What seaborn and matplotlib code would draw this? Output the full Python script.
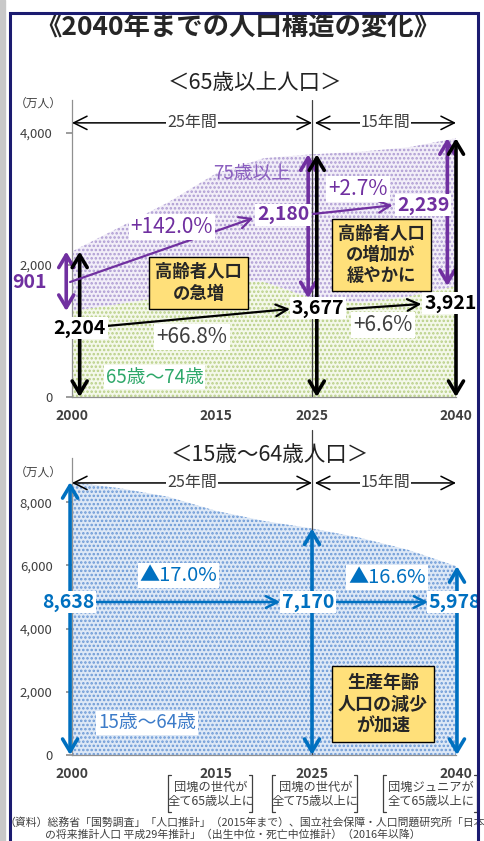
import matplotlib
matplotlib.use('Agg')
import matplotlib.pyplot as plt
import pandas as pd
import seaborn as sns
from matplotlib.patches import Rectangle
from matplotlib.lines import Line2D

sns.set_theme(style='white')
plt.rcParams['font.family'] = ['Noto Sans CJK JP', 'DejaVu Sans']
plt.rcParams['hatch.linewidth'] = 1.2

# データ（万人）
years = [2000, 2005, 2010, 2015, 2020, 2025, 2030, 2035, 2040]
age65_74 = [1303, 1412, 1529, 1755, 1747, 1497, 1428, 1522, 1682]
age75_plus = [901, 1164, 1419, 1632, 1872, 2180, 2288, 2260, 2239]
age15_64 = [8638, 8442, 8173, 7728, 7406, 7170, 6875, 6494, 5978]
tick_years = [2000, 2015, 2025, 2040]

df = pd.DataFrame({'year': years, 'a65_74': age65_74, 'a75': age75_plus, 'a15_64': age15_64})
df['old_total'] = df['a65_74'] + df['a75']
df = df.set_index('year')

PURPLE = '#7030A0'
BLUE = '#0070C0'
GREEN = '#2FA86A'
GREY = '#404040'
BOXC = '#FFE07A'

W, H = 484, 841
fig = plt.figure(figsize=(W / 100, H / 100), dpi=100)


def pbox(l, t, r, b):
    return [l / W, 1 - b / H, (r - l) / W, (b - t) / H]


def fxy(x, y):
    return (x / W, 1 - y / H)


ax1 = fig.add_axes(pbox(72, 100, 456, 397))
ax2 = fig.add_axes(pbox(72, 458, 456, 755))

# 面グラフ
ax1.fill_between(df.index, 0, df['a65_74'], facecolor='#f4f8ea', edgecolor='#b8cf86', hatch='....', lw=0)
ax1.fill_between(df.index, df['a65_74'], df['old_total'], facecolor='#f2eef8', edgecolor='#ad9bd2', hatch='....', lw=0)
ax2.fill_between(df.index, 0, df['a15_64'], facecolor='#dde8f6', edgecolor='#6b99d6', hatch='....', lw=0)

for ax, ymax, yt in [(ax1, 4500, [0, 2000, 4000]), (ax2, 9400, [0, 2000, 4000, 6000, 8000])]:
    ax.set_xlim(2000, 2040)
    ax.set_ylim(0, ymax)
    ax.set_yticks(yt)
    ax.set_yticklabels([f'{v:,}' for v in yt])
    ax.set_xticks(tick_years)
    ax.set_xticklabels([str(y) for y in tick_years])
    for lab in ax.get_xticklabels():
        lab.set_fontweight('bold')
    ax.tick_params(axis='y', left=True, length=4, color='#909090', labelsize=9.5, labelcolor=GREY, pad=10)
    ax.tick_params(axis='x', bottom=False, length=0, labelsize=10, labelcolor=GREY, pad=9)
    sns.despine(ax=ax)
    for s in ['left', 'bottom']:
        ax.spines[s].set_color('#909090')
        ax.spines[s].set_linewidth(0.9)
    ax.set_facecolor('none')
    ax.set_xlabel('')
    ax.set_ylabel('')

ax1.axvline(2025, color=GREY, lw=0.9)
ax2.axvline(2025, ymin=0, ymax=1.095, color=GREY, lw=0.9, clip_on=False)


def darrow(ax, x, y0, y1, color, lw=2.6):
    ax.annotate('', xy=(x, y1), xytext=(x, y0),
                arrowprops=dict(arrowstyle='<->,head_length=0.75,head_width=0.45', color=color, lw=lw,
                                shrinkA=0, shrinkB=0), annotation_clip=False)


def sarrow(ax, p0, p1, color, lw=1.6):
    ax.annotate('', xy=p1, xytext=p0,
                arrowprops=dict(arrowstyle='->,head_length=0.7,head_width=0.35', color=color, lw=lw,
                                shrinkA=0, shrinkB=0), annotation_clip=False)


def span(ax, x0, x1, yfrac, label):
    tr = ax.get_xaxis_transform()
    ax.annotate('', xy=(x1, yfrac), xytext=(x0, yfrac), xycoords=tr, textcoords=tr,
                arrowprops=dict(arrowstyle='<->,head_length=0.8,head_width=0.4', color='black', lw=1.1,
                                shrinkA=0, shrinkB=0), annotation_clip=False)
    ax.text((x0 + x1) / 2, yfrac, label, transform=tr, ha='center', va='center', fontsize=11.5, color=GREY,
            bbox=dict(boxstyle='square,pad=0.05', fc='white', ec='none'))


WB = dict(boxstyle='square,pad=0.1', fc='white', ec='none')
YB = dict(boxstyle='square,pad=0.35', fc=BOXC, ec='black', lw=1)

# ---- 65歳以上 ----
span(ax1, 2000, 2025, 0.923, '25年間')
span(ax1, 2025.3, 2040, 0.923, '15年間')

o00, o25, o40 = df.loc[2000], df.loc[2025], df.loc[2040]
darrow(ax1, 1999.4, o00['old_total'], o00['a65_74'], PURPLE)
darrow(ax1, 2000.8, 0, o00['old_total'], 'black')
darrow(ax1, 2024.6, o25['old_total'], o25['a65_74'], PURPLE)
darrow(ax1, 2025.5, 0, o25['old_total'], 'black')
darrow(ax1, 2039.1, o40['old_total'], o40['a65_74'], PURPLE)
darrow(ax1, 2040.0, 0, o40['old_total'], 'black')

sarrow(ax1, (1999.8, 1742), (2018.9, 2712), PURPLE)
sarrow(ax1, (2025.1, 2773), (2033.4, 2905), PURPLE)
sarrow(ax1, (2003.6, 1076), (2022.7, 1333), 'black')
sarrow(ax1, (2028.7, 1333), (2036.4, 1409), 'black')

ax1.text(1995.6, 1742, f"{int(o00['a75']):,}", color=PURPLE, fontsize=14, fontweight='bold', ha='center', va='center')
ax1.text(2000.8, 1045, f"{int(o00['old_total']):,}", color='black', fontsize=14, fontweight='bold', ha='center', va='center', bbox=WB)
ax1.text(2022.0, 2758, f"{int(o25['a75']):,}", color=PURPLE, fontsize=14, fontweight='bold', ha='center', va='center', bbox=WB)
ax1.text(2025.6, 1348, f"{int(o25['old_total']):,}", color='black', fontsize=14, fontweight='bold', ha='center', va='center', bbox=WB)
ax1.text(2036.6, 2909, f"{int(o40['a75']):,}", color=PURPLE, fontsize=14, fontweight='bold', ha='center', va='center', bbox=WB)
ax1.text(2039.4, 1424, f"{int(o40['old_total']):,}", color='black', fontsize=14, fontweight='bold', ha='center', va='center', bbox=WB)

ax1.text(2010.4, 2576, '+142.0%', color=PURPLE, fontsize=15, ha='center', va='center', bbox=WB)
ax1.text(2029.8, 3152, '+2.7%', color=PURPLE, fontsize=15, ha='center', va='center', bbox=WB)
ax1.text(2012.5, 909, '+66.8%', color=GREY, fontsize=15, ha='center', va='center', bbox=WB)
ax1.text(2032.4, 1091, '+6.6%', color=GREY, fontsize=15, ha='center', va='center', bbox=WB)
ax1.text(2018.75, 3379, '75歳以上', color='#8B5FBF', fontsize=13.5, ha='center', va='center')
ax1.text(2008.6, 303, '65歳～74歳', color=GREEN, fontsize=13.5, ha='center', va='center', bbox=WB)

ax1.text(2013.2, 1727, '高齢者人口\nの急増', fontsize=12.5, fontweight='bold', ha='center', va='center',
         linespacing=1.25, bbox=YB)
ax1.text(2032.2, 2152, '高齢者人口\nの増加が\n緩やかに', fontsize=12.5, fontweight='bold', ha='center', va='center',
         linespacing=1.2, bbox=YB)

# ---- 15歳～64歳 ----
span(ax2, 2000, 2025, 0.916, '25年間')
span(ax2, 2025.3, 2040, 0.916, '15年間')

w00, w25, w40 = df.loc[2000, 'a15_64'], df.loc[2025, 'a15_64'], df.loc[2040, 'a15_64']
darrow(ax2, 1999.8, 0, w00, BLUE)
darrow(ax2, 2025.0, 0, w25, BLUE)
darrow(ax2, 2040.1, 0, w40, BLUE)
sarrow(ax2, (2002.6, 4842), (2021.7, 4842), BLUE, lw=1.8)
sarrow(ax2, (2027.6, 4842), (2037.1, 4842), BLUE, lw=1.8)

ax2.text(1999.6, 4842, f'{int(w00):,}', color=BLUE, fontsize=14, fontweight='bold', ha='center', va='center', bbox=WB)
ax2.text(2024.6, 4842, f'{int(w25):,}', color=BLUE, fontsize=14, fontweight='bold', ha='center', va='center', bbox=WB)
ax2.text(2039.9, 4842, f'{int(w40):,}', color=BLUE, fontsize=14, fontweight='bold', ha='center', va='center', bbox=WB)
ax2.text(2011.1, 5696, '▲17.0%', color=BLUE, fontsize=14.5, ha='center', va='center', bbox=WB)
ax2.text(2032.8, 5633, '▲16.6%', color=BLUE, fontsize=14.5, ha='center', va='center', bbox=WB)
ax2.text(2007.8, 1013, '15歳～64歳', color='#3D7CC9', fontsize=13.5, ha='center', va='center', bbox=WB)
ax2.text(2032.4, 1614, '生産年齢\n人口の減少\nが加速', fontsize=13, fontweight='bold', ha='center', va='center',
         linespacing=1.2, bbox=YB)

# ---- 枠・タイトル ----
fig.patches.append(Rectangle((0, 0), 5 / W, 1, transform=fig.transFigure, color='#c8c8c8', zorder=0))
fig.patches.append(Rectangle((10 / W, -0.02), 468 / W, 1 - 13 / H + 0.02, transform=fig.transFigure,
                             fill=False, ec='#1b1b70', lw=2.2, zorder=5))

fig.text(*fxy(238, 28), '《2040年までの人口構造の変化》', fontsize=19, fontweight='bold', ha='center', va='center')
fig.text(*fxy(255, 83), '＜65歳以上人口＞', fontsize=15.5, ha='center', va='center', color='#222222')
fig.text(*fxy(270, 455), '＜15歳～64歳人口＞', fontsize=15.5, ha='center', va='center', color='#222222')
fig.text(*fxy(38, 103), '（万人）', fontsize=8.5, ha='center', va='center', color=GREY)
fig.text(*fxy(38, 472), '（万人）', fontsize=8.5, ha='center', va='center', color=GREY)


def bracket(l, r, t, b):
    for x, d in [(l, 3), (r, -3)]:
        fig.lines.append(Line2D([(x + d) / W, x / W, x / W, (x + d) / W],
                                [1 - t / H, 1 - t / H, 1 - b / H, 1 - b / H],
                                transform=fig.transFigure, color=GREY, lw=0.9))


notes = [(168, 252, '団塊の世代が\n全て65歳以上に'),
         (272, 357, '団塊の世代が\n全て75歳以上に'),
         (383, 477, '団塊ジュニアが\n全て65歳以上に')]
for l, r, txt in notes:
    bracket(l, r, 775, 812)
    fig.text(*fxy((l + r) / 2 + 1, 794), txt, fontsize=8.8, ha='center', va='center', color=GREY, linespacing=1.1)

fig.text(*fxy(5, 822), '（資料）総務省「国勢調査」「人口推計」（2015年まで）、国立社会保障・人口問題研究所「日本',
         fontsize=7.8, ha='left', va='center', color=GREY)
fig.text(*fxy(45, 835), 'の将来推計人口 平成29年推計」（出生中位・死亡中位推計）（2016年以降）',
         fontsize=7.8, ha='left', va='center', color=GREY)

fig.savefig('out.png', dpi=100)
